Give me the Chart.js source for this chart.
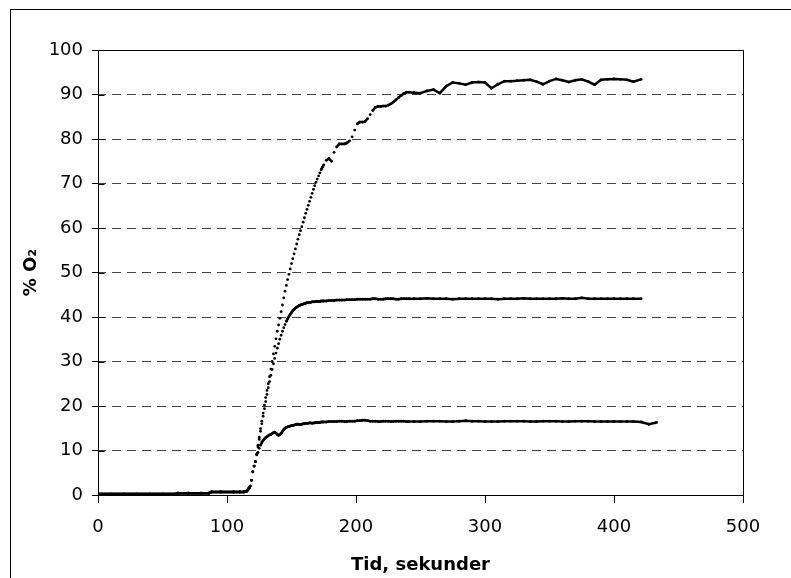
<!DOCTYPE html>
<html><head><meta charset="utf-8">
<script src="https://cdn.jsdelivr.net/npm/chart.js@4/dist/chart.umd.min.js"></script>
<style>
html,body{margin:0;padding:0;background:#fff;overflow:hidden;width:791px;height:578px;}
#frame{position:absolute;left:10px;top:9px;width:900px;height:700px;border-left:1px solid #000;border-top:1px solid #000;}
#c{position:absolute;left:0;top:0;}
</style></head><body>
<div id="frame"></div>
<canvas id="c" width="791" height="578"></canvas>
<script>
// Tid, sekunder
const tid = [0,10,20,30,40,50,60,62,70,80,86,88,95,105,110,113,114,
115,116,117,118,119,120,121,122,123,124,125,126,127,128,129,130,131,132,133,134,135,136,137,138,139,140,141,142,143,144,145,146,147,148,149,150,151,152,153,154,155,156,157,158,159,160,161,162,163,164,165,166,167,168,169,170,171,172,173,174,175,
177,179,181,183,185,187,189,191,193,195,197,199,201,203,205,207,209,211,213,215,217,219,221,223,225,227,229,231,233,235,237,239,241,
245,250,255,260,265,270,275,280,285,290,295,300,305,310,315,320,325,330,335,340,345,350,355,360,365,370,375,380,385,390,395,400,405,410,415,
421,427,433];

// % O2, highest curve
const o2Hoej = [0.2,0.2,0.2,0.2,0.2,0.2,0.2,0.4,0.4,0.4,0.4,0.7,0.7,0.7,0.7,0.7,0.75,
0.8,1.1,1.5,2.0,3.3,5.2,6.5,7.5,9.2,
11.2,13.0,14.9,16.6,18.4,20.2,21.9,23.5,25.0,26.6,28.3,30.0,31.7,33.4,35.1,36.8,
38.2,39.7,41.2,42.7,44.3,
45.8,47.1,48.4,49.6,50.8,52.0,53.1,54.2,55.3,56.4,57.5,58.5,59.4,60.3,61.3,62.3,63.3,64.2,65.1,66.0,66.9,67.8,68.7,69.5,70.3,71.0,71.7,72.4,73.1,73.7,74.2,
75.2,75.6,75.0,77.0,78.2,78.9,78.9,78.9,79.1,79.6,80.5,82.0,83.4,83.8,83.8,83.9,84.6,85.5,86.4,87.1,87.3,87.3,87.4,87.4,87.6,87.9,88.3,88.8,89.3,89.8,90.2,90.5,90.5,
90.4,90.3,90.8,91.1,90.3,91.9,92.7,92.5,92.2,92.7,92.8,92.7,91.4,92.3,93.0,93.0,93.1,93.2,93.3,92.9,92.3,93.0,93.5,93.2,92.8,93.2,93.4,92.9,92.2,93.3,93.4,93.5,93.4,93.3,92.9,
93.4,null,null];

// % O2, middle curve
const o2Mellem = [0.2,0.2,0.2,0.2,0.2,0.2,0.2,0.4,0.4,0.4,0.4,0.7,0.7,0.7,0.7,0.7,0.75,
0.8,1.1,1.5,2.0,3.3,5.2,6.5,7.5,9.2,
10.8,12.5,14.3,16.0,17.7,19.4,21.0,22.6,24.1,25.5,26.9,28.2,29.5,30.7,31.9,33.0,34.0,35.0,35.9,36.8,37.6,38.3,39.0,39.6,40.1,40.6,41.0,41.4,41.7,42.0,42.2,42.4,42.6,42.7,42.8,42.9,43.0,43.1,43.2,43.2,43.3,43.3,43.4,43.4,43.4,43.5,43.5,43.5,43.5,43.6,43.6,43.6,
43.6,43.7,43.7,43.7,43.8,43.8,43.8,43.8,43.9,43.9,43.9,43.9,44.0,44.0,44.0,44.0,44.0,44.0,44.1,44.1,44.0,44.0,44.0,44.1,44.1,44.1,44.1,44.0,44.0,44.1,44.1,44.1,44.1,
44.1,44.1,44.2,44.1,44.1,44.1,44.0,44.1,44.1,44.1,44.1,44.1,44.1,44.0,44.1,44.1,44.1,44.2,44.1,44.1,44.1,44.1,44.1,44.2,44.1,44.1,44.3,44.1,44.1,44.1,44.1,44.1,44.1,44.1,44.1,
44.1,null,null];

// % O2, lowest curve
const o2Lav = [0.2,0.2,0.2,0.2,0.2,0.2,0.2,0.4,0.4,0.4,0.4,0.7,0.7,0.7,0.7,0.7,0.75,
0.8,1.1,1.5,2.0,3.3,5.2,6.5,7.5,9.0,
9.6,10.5,11.2,11.8,12.3,12.6,12.9,13.1,13.3,13.5,13.6,13.8,14.0,14.1,13.9,13.6,13.4,13.6,13.9,14.3,14.7,15.0,15.2,15.3,15.4,15.5,15.6,15.6,15.7,15.8,15.9,15.9,15.8,15.8,15.9,16.0,16.0,16.1,16.1,16.1,16.2,16.2,16.1,16.2,16.2,16.3,16.3,16.3,16.3,16.4,16.4,16.4,
16.4,16.5,16.5,16.5,16.5,16.6,16.6,16.5,16.5,16.6,16.6,16.6,16.7,16.7,16.8,16.8,16.7,16.6,16.6,16.6,16.5,16.5,16.6,16.6,16.6,16.5,16.5,16.6,16.6,16.6,16.6,16.5,16.5,
16.5,16.5,16.6,16.6,16.6,16.5,16.5,16.6,16.7,16.6,16.6,16.5,16.5,16.5,16.6,16.6,16.6,16.6,16.5,16.5,16.6,16.6,16.6,16.5,16.5,16.6,16.6,16.6,16.5,16.5,16.5,16.5,16.5,16.5,16.5,
16.4,15.9,16.3];

const xTitle = 'Tid, sekunder';
const yTitle = '% O\u2082';

const FONT = 'DejaVu Sans';

function series(vals) {
  return {
    data: tid.map((t, i) => ({x: t, y: vals[i]})),
    showLine: true,
    borderColor: '#000',
    borderWidth: 2.5,
    pointRadius: 1.4,
    pointBorderWidth: 0,
    pointBackgroundColor: '#000',
    pointHoverRadius: 0,
    spanGaps: false,
    segment: {
      borderColor: ctx => {
        const dx = Math.abs(ctx.p1.x - ctx.p0.x), dy = Math.abs(ctx.p1.y - ctx.p0.y);
        return (dy > 3 && dy > 1.5 * dx) ? 'rgba(0,0,0,0)' : '#000';
      }
    }
  };
}

const plotBorder = {
  id: 'plotBorder',
  afterDraw(chart) {
    const {ctx, chartArea: a, scales: {y}} = chart;
    ctx.save();
    ctx.strokeStyle = '#000';
    ctx.lineWidth = 1;
    const L = Math.round(a.left) + 0.5, R = Math.round(a.right) + 0.5;
    const T = Math.round(a.top) + 0.5, B = Math.round(a.bottom) + 0.5;
    ctx.strokeRect(L, T, R - L, B - T);
    ctx.beginPath();
    y.ticks.forEach(t => {
      const py = Math.round(y.getPixelForValue(t.value)) + 0.5;
      ctx.moveTo(L, py); ctx.lineTo(L + 6, py);
    });
    ctx.stroke();
    ctx.restore();
  }
};

new Chart(document.getElementById('c'), {
  type: 'scatter',
  data: { datasets: [series(o2Hoej), series(o2Mellem), series(o2Lav)] },
  options: {
    responsive: false,
    animation: false,
    devicePixelRatio: 1,
    layout: { padding: { left: 10, top: 50, right: 48, bottom: 0 } },
    plugins: { legend: { display: false }, tooltip: { enabled: false } },
    scales: {
      x: {
        type: 'linear', min: 0, max: 500,
        ticks: { stepSize: 100, color: '#000', font: { family: FONT, size: 18 }, padding: 14, maxRotation: 0 },
        grid: { drawOnChartArea: false, tickLength: 8, tickColor: '#000' },
        border: { color: '#000', width: 1 },
        title: { display: true, text: xTitle, color: '#000', font: { family: FONT, size: 18, weight: 'bold' }, padding: { top: 0, bottom: 2 } },
        afterFit(s) { s.height = 83; }
      },
      y: {
        type: 'linear', min: 0, max: 100,
        ticks: { stepSize: 10, color: '#000', font: { family: FONT, size: 18 }, padding: 9 },
        grid: { color: c => (c.tick && c.tick.value === 0) ? 'rgba(0,0,0,0)' : '#444', tickLength: 6, tickColor: '#000', tickBorderDash: [] },
        border: { color: '#000', width: 1, dash: [9, 6], dashOffset: 2 },
        title: { display: true, text: yTitle, color: '#000', font: { family: FONT, size: 18, weight: 'bold' }, padding: { top: 11, bottom: 0 } },
        afterFit(s) { s.width = 88; }
      }
    }
  },
  plugins: [plotBorder]
});
</script>
</body></html>
